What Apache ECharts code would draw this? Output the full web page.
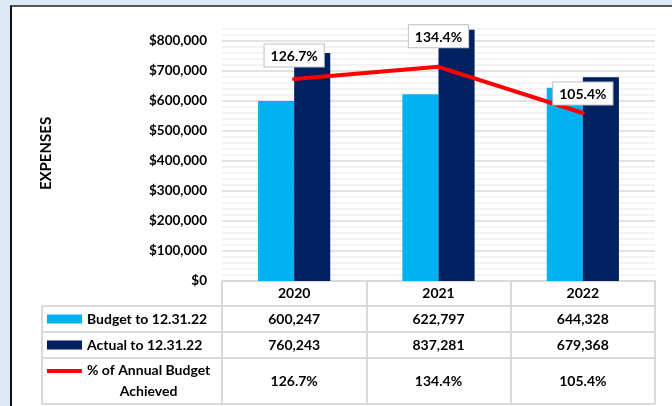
<!DOCTYPE html>
<html>
<head>
<meta charset="utf-8">
<script src="https://cdn.jsdelivr.net/npm/echarts@6/dist/echarts.min.js"></script>
<style>
html, body { margin: 0; padding: 0; }
body { width: 672px; height: 406px; background: #dde9f5; position: relative; overflow: hidden; }
#frame { position: absolute; left: 10px; top: 5px; width: 700px; height: 420px; background: #fff;
	border-top: 2px solid #555; border-left: 2px solid #111; }
#main { position: absolute; left: 0; top: 0; width: 672px; height: 406px; }
</style>
</head>
<body>
<div id="frame"></div>
<div id="main"></div>
<script>
var years = ['2020', '2021', '2022'];
var budget = [600247, 622797, 644328];
var actual = [760243, 837281, 679368];
var pctAchieved = [126.7, 134.4, 105.4];
var seriesNames = ['Budget to 12.31.22', 'Actual to 12.31.22', '% of Annual Budget Achieved'];

var FONT = 'Lato, "Liberation Sans", sans-serif';
// layout of the data table under the plot
var gridLeft = 222, gridRight = 655, axisY = 281;
var tableLeft = 42;
var rowLines = [306, 332, 358, 404];
// label placement for the % points: [distance, x offset]
var pctLabelPos = [[12, 0], [19, 0], [8, 17]];
// red line icon sitting level with the first text line
var lineIcon = 'path://M0,0H35V4H0Z M0,24h0.05v0.05h-0.05Z';

function fmt(n) {
	return n.toLocaleString('en-US');
}

function txt(size, extra) {
	var s = { fontFamily: FONT, fontSize: size, fontWeight: 'bold', color: '#000' };
	for (var k in extra) s[k] = extra[k];
	return s;
}

drawChart('main');
function drawChart(id) {
	var chart = echarts.init(document.getElementById(id));

	var tableLines = [];
	rowLines.forEach(function (y) {
		tableLines.push({
			type: 'line',
			shape: { x1: tableLeft, y1: y, x2: gridRight, y2: y },
			style: { stroke: '#d9d9d9', lineWidth: 2 }
		});
	});
	tableLines.push({
		type: 'line',
		shape: { x1: tableLeft, y1: rowLines[0], x2: tableLeft, y2: rowLines[3] },
		style: { stroke: '#d9d9d9', lineWidth: 2 }
	});

	// one legend per table row so each sits in its own cell
	function legendRow(i, top, icon, h, formatter, rich) {
		return {
			left: 47,
			top: top,
			padding: 0,
			itemWidth: 35,
			itemHeight: h,
			selectedMode: false,
			icon: icon,
			data: [seriesNames[i]],
			formatter: formatter,
			textStyle: txt(14, { lineHeight: 18, rich: rich })
		};
	}

	var option = {
		animation: false,
		textStyle: { fontFamily: FONT },
		grid: {
			left: gridLeft,
			right: 672 - gridRight,
			top: 26,
			bottom: 406 - axisY
		},
		legend: [
			legendRow(0, 310, 'rect', 9),
			legendRow(1, 336, 'rect', 9),
			legendRow(2, 360, lineIcon, 24, function () {
				return '{a|% of Annual Budget}\n{c|Achieved}';
			}, {
				a: txt(14, { lineHeight: 21 }),
				c: txt(14, { lineHeight: 21, align: 'center' })
			})
		],
		xAxis: [{
			type: 'category',
			data: years,
			axisLine: { lineStyle: { color: '#d9d9d9', width: 2 } },
			axisTick: { show: true, length: rowLines[3] - axisY, lineStyle: { color: '#d9d9d9', width: 2 } },
			axisLabel: {
				margin: 0,
				formatter: function (value, i) {
					return '{y|' + value + '}\n{v|' + fmt(budget[i]) + '}\n{v|' + fmt(actual[i]) + '}\n{p|' + pctAchieved[i] + '%}';
				},
				rich: {
					y: txt(14, { lineHeight: 25 }),
					v: txt(14, { lineHeight: 26 }),
					p: txt(14, { lineHeight: 46 })
				}
			}
		}],
		yAxis: [{
			type: 'value',
			min: 0,
			max: 850000,
			interval: 100000,
			name: 'EXPENSES',
			nameLocation: 'middle',
			nameRotate: 90,
			nameGap: 168,
			nameTextStyle: txt(15),
			axisLine: { show: false },
			axisTick: { show: false },
			axisLabel: {
				margin: 15,
				showMaxLabel: false,
				fontFamily: FONT,
				fontSize: 13.5,
				fontWeight: 'bold',
				color: '#000',
				formatter: function (v) { return '$' + fmt(v); }
			},
			splitLine: { show: true, showMaxLine: false, lineStyle: { color: '#d9d9d9', width: 1.5 } },
			minorTick: { show: false, splitNumber: 5 },
			minorSplitLine: { show: true, lineStyle: { color: '#efefef', width: 1.5 } }
		}, {
			type: 'value',
			min: 0,
			max: 160,
			show: false,
			splitLine: { show: false }
		}],
		series: [{
			name: seriesNames[0],
			type: 'bar',
			barGap: '0%',
			barCategoryGap: '50%',
			itemStyle: { color: '#00b0f0' },
			data: budget
		}, {
			name: seriesNames[1],
			type: 'bar',
			itemStyle: { color: '#002060' },
			data: actual
		}, {
			name: seriesNames[2],
			type: 'line',
			yAxisIndex: 1,
			symbol: 'circle',
			symbolSize: 1,
			showSymbol: true,
			z: 5,
			lineStyle: { color: '#ff0000', width: 4, cap: 'round' },
			itemStyle: { color: '#ff0000' },
			label: {
				show: true,
				position: 'top',
				formatter: '{c}%',
				fontFamily: FONT,
				fontSize: 14,
				fontWeight: 'bold',
				color: '#000',
				backgroundColor: '#fff',
				borderColor: '#bfbfbf',
				borderWidth: 1,
				padding: [5, 6, 3, 6]
			},
			labelLayout: { hideOverlap: false },
			data: pctAchieved.map(function (v, i) {
				return {
					value: v,
					label: { distance: pctLabelPos[i][0], offset: [pctLabelPos[i][1], 0] }
				};
			})
		}],
		graphic: tableLines
	};
	chart.setOption(option);
}
</script>
</body>
</html>
